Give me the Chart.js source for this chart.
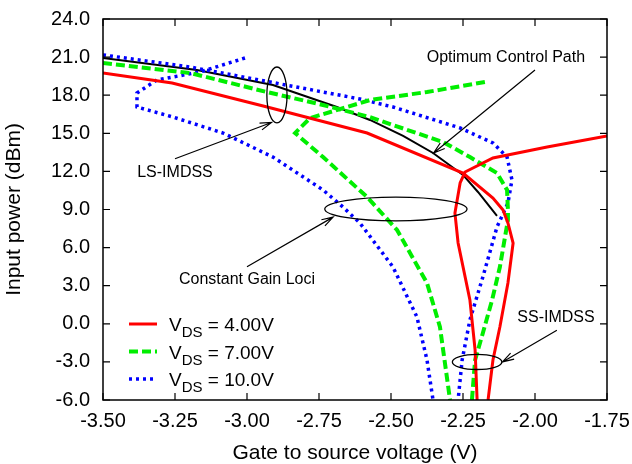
<!DOCTYPE html>
<html>
<head>
<meta charset="utf-8">
<script src="https://cdn.jsdelivr.net/npm/chart.js@4/dist/chart.umd.min.js"></script>
<style>
  html, body { margin: 0; padding: 0; background: #fff; }
  #wrap { width: 632px; height: 464px; }
</style>
</head>
<body>
<div id="wrap"><canvas id="chart" width="632" height="464"></canvas></div>
<script>
// tick labels
var xTickLabels = ['-3.50', '-3.25', '-3.00', '-2.75', '-2.50', '-2.25', '-2.00', '-1.75'];
var yTickLabels = ['-6.0', '-3.0', '0.0', '3.0', '6.0', '9.0', '12.0', '15.0', '18.0', '21.0', '24.0'];

// VDS = 4.00V (two contour branches)
var red4aX = [-3.5, -3.26, -2.93, -2.583, -2.25, -2.146, -2.111, -2.094, -2.076, -2.094, -2.122, -2.146, -2.163];
var red4aY = [19.75, 18.96, 17.07, 15.02, 11.87, 9.9, 8.96, 7.94, 6.36, 3.21, -0.25, -2.85, -6];
var red4bX = [-2.201, -2.208, -2.226, -2.267, -2.278, -2.26, -2.243, -2.146, -1.958, -1.75];
var red4bY = [-6, -2.06, 1.87, 6.36, 8.72, 11.09, 11.95, 13.06, 13.92, 14.79];

// VDS = 7.00V
var green7aX = [-3.5, -3.198, -2.931, -2.736, -2.573, -2.493, -2.319, -2.226, -2.132, -2.097, -2.094, -2.094, -2.122, -2.149, -2.181, -2.208, -2.219];
var green7aY = [20.54, 19.75, 18.25, 17.23, 16.28, 15.65, 14.31, 13.13, 11.87, 10.54, 8.96, 8.17, 4.47, 1.87, -0.72, -2.85, -6];
var green7bX = [-2.174, -2.375, -2.573, -2.781, -2.833, -2.736, -2.583, -2.479, -2.375, -2.33, -2.295];
var green7bY = [19.04, 18.25, 17.62, 16.2, 15.02, 13.13, 9.98, 7.39, 3.21, -0.25, -6];

// VDS = 10.0V
var blue10aX = [-3.5, -3.198, -2.92, -2.608, -2.493, -2.26, -2.146, -2.097, -2.08, -2.094, -2.132, -2.181, -2.226, -2.253, -2.267];
var blue10aY = [21.17, 20.22, 19.04, 17.7, 17.07, 15.42, 14.24, 13.13, 11.32, 9.51, 7.62, 3.69, 0.3, -2.85, -6];
var blue10bX = [-3.007, -3.163, -3.313, -3.382, -3.382, -3.257, -3.083, -2.91, -2.736, -2.667, -2.608, -2.493, -2.41, -2.375, -2.354];
var blue10bY = [20.93, 19.83, 19.2, 18.17, 17.07, 16.28, 15.02, 13.13, 10.54, 9.2, 7.94, 4.47, 0.54, -2.85, -6];

// optimum control path
var optX = [-3.5, -3.174, -2.91, -2.688, -2.573, -2.458, -2.354, -2.25, -2.198, -2.132];
var optY = [20.93, 19.98, 18.8, 17.07, 16.05, 14.79, 13.45, 11.72, 10.38, 8.49];

var seriesNames = ['V_DS = 4.00V', 'V_DS = 7.00V', 'V_DS = 10.0V'];

// annotations, in data units: [cx, cy, rx, ry]
var ellipses = [
  [-2.896, 18.02, 0.035, 2.2],
  [-2.483, 9.04, 0.247, 0.94],
  [-2.201, -3.0, 0.086, 0.6]
];
// arrows: [fromX, fromY, toX, toY]
var arrows = [
  [-3.25, 13.0, -2.915, 15.85],
  [-3.0, 4.5, -2.701, 8.4],
  [-2.0, 19.98, -2.352, 13.45],
  [-1.924, -0.5, -2.113, -3.0]
];
// labels: [x, y, text]
var notes = [
  [-3.25, 11.9, 'LS-IMDSS'],
  [-3.0, 3.45, 'Constant Gain Loci'],
  [-2.101, 20.93, 'Optimum Control Path'],
  [-1.927, 0.45, 'SS-IMDSS']
];

var FONT = '"Liberation Sans", Arial, sans-serif';

function pts(xs, ys) {
  return xs.map(function (x, i) { return { x: x, y: ys[i] }; });
}

var RED = '#ff0000', GREEN = '#00ee00', BLUE = '#0000ff';

function line(label, xs, ys, color, width, dash) {
  return {
    label: label,
    data: pts(xs, ys),
    showLine: true,
    borderColor: color,
    backgroundColor: color,
    borderWidth: width,
    borderDash: dash,
    pointRadius: 0,
    tension: 0,
    clip: 0
  };
}

var decor = {
  id: 'decor',
  afterDatasetsDraw: function (chart) {
    var ctx = chart.ctx;
    var a = chart.chartArea;
    var xs = chart.scales.x, ys = chart.scales.y;
    ctx.save();
    // frame
    ctx.strokeStyle = '#000';
    ctx.lineWidth = 1.5;
    ctx.strokeRect(a.left, a.top, a.right - a.left, a.bottom - a.top);
    // inward ticks on all four sides
    ctx.lineWidth = 1.2;
    ctx.beginPath();
    xs.ticks.forEach(function (t) {
      var p = xs.getPixelForValue(t.value);
      ctx.moveTo(p, a.bottom); ctx.lineTo(p, a.bottom - 7);
      ctx.moveTo(p, a.top); ctx.lineTo(p, a.top + 7);
    });
    ys.ticks.forEach(function (t) {
      var p = ys.getPixelForValue(t.value);
      ctx.moveTo(a.left, p); ctx.lineTo(a.left + 7, p);
      ctx.moveTo(a.right, p); ctx.lineTo(a.right - 7, p);
    });
    ctx.stroke();

    // ellipses
    ctx.lineWidth = 1.3;
    ellipses.forEach(function (e) {
      var cx = xs.getPixelForValue(e[0]), cy = ys.getPixelForValue(e[1]);
      var rx = Math.abs(xs.getPixelForValue(e[0] + e[2]) - cx);
      var ry = Math.abs(ys.getPixelForValue(e[1] + e[3]) - cy);
      ctx.beginPath();
      ctx.ellipse(cx, cy, rx, ry, 0, 0, Math.PI * 2);
      ctx.stroke();
    });
    // arrows
    ctx.lineWidth = 1.2;
    arrows.forEach(function (r) {
      var x0 = xs.getPixelForValue(r[0]), y0 = ys.getPixelForValue(r[1]);
      var x1 = xs.getPixelForValue(r[2]), y1 = ys.getPixelForValue(r[3]);
      var ang = Math.atan2(y1 - y0, x1 - x0);
      ctx.beginPath();
      ctx.moveTo(x0, y0); ctx.lineTo(x1, y1);
      ctx.moveTo(x1 - 12 * Math.cos(ang - 0.3), y1 - 12 * Math.sin(ang - 0.3));
      ctx.lineTo(x1, y1);
      ctx.lineTo(x1 - 12 * Math.cos(ang + 0.3), y1 - 12 * Math.sin(ang + 0.3));
      ctx.stroke();
    });
    // note labels
    ctx.fillStyle = '#000';
    ctx.font = '16px ' + FONT;
    ctx.textAlign = 'center';
    ctx.textBaseline = 'middle';
    notes.forEach(function (n) {
      ctx.fillText(n[2], xs.getPixelForValue(n[0]), ys.getPixelForValue(n[1]));
    });

    // legend with subscripts
    var ds = chart.data.datasets;
    var lx = a.left + 26, ly = a.top + 305;
    for (var i = 0; i < 3; i++) {
      var d = ds[i * 2];
      var yy = ly + i * 27.5;
      ctx.strokeStyle = d.borderColor;
      ctx.lineWidth = d.borderWidth;
      ctx.setLineDash(d.borderDash);
      ctx.beginPath();
      ctx.moveTo(lx, yy); ctx.lineTo(lx + 28, yy);
      ctx.stroke();
      ctx.setLineDash([]);
      var parts = seriesNames[i].split('_');
      var rest = parts[1].split(' ');
      var sub = rest.shift();
      var tail = ' ' + rest.join(' ');
      ctx.fillStyle = '#000';
      ctx.textAlign = 'left';
      ctx.textBaseline = 'alphabetic';
      var tx = lx + 40, base = yy + 7;
      ctx.font = '19px ' + FONT;
      ctx.fillText(parts[0], tx, base);
      tx += ctx.measureText(parts[0]).width;
      ctx.font = '15px ' + FONT;
      ctx.fillText(sub, tx, base + 6);
      tx += ctx.measureText(sub).width;
      ctx.font = '19px ' + FONT;
      ctx.fillText(tail, tx, base);
    }
    ctx.restore();
  }
};

new Chart(document.getElementById('chart'), {
  type: 'scatter',
  data: {
    datasets: [
      line(seriesNames[0], red4aX, red4aY, RED, 3, []),
      line('', red4bX, red4bY, RED, 3, []),
      line(seriesNames[1], green7aX, green7aY, GREEN, 4, [9, 4]),
      line('', green7bX, green7bY, GREEN, 4, [9, 4]),
      line(seriesNames[2], blue10aX, blue10aY, BLUE, 3.5, [3, 4]),
      line('', blue10bX, blue10bY, BLUE, 3.5, [3, 4]),
      line('opt', optX, optY, '#000', 2, [])
    ]
  },
  options: {
    responsive: false,
    animation: false,
    layout: { padding: { top: 19, right: 25, left: 0, bottom: 0 } },
    plugins: { legend: { display: false }, tooltip: { enabled: false } },
    scales: {
      x: {
        type: 'linear',
        min: -3.5, max: -1.75,
        afterBuildTicks: function (s) {
          s.ticks = xTickLabels.map(function (v) { return { value: parseFloat(v) }; });
        },
        afterFit: function (s) { s.height = 64; s.paddingLeft = 0; s.paddingRight = 0; },
        grid: { display: false, drawTicks: false },
        border: { display: false },
        ticks: {
          padding: 9,
          color: '#000',
          maxRotation: 0,
          font: { family: FONT, size: 20 },
          callback: function (v, i) { return xTickLabels[i]; }
        },
        title: {
          display: true,
          text: 'Gate to source voltage (V)',
          color: '#000',
          padding: { top: 0, bottom: 0 },
          font: { family: FONT, size: 21, lineHeight: 1 }
        }
      },
      y: {
        type: 'linear',
        min: -6, max: 24,
        afterBuildTicks: function (s) {
          s.ticks = yTickLabels.map(function (v) { return { value: parseFloat(v) }; });
        },
        afterFit: function (s) { s.width = 103; s.paddingTop = 0; s.paddingBottom = 0; },
        grid: { display: false, drawTicks: false },
        border: { display: false },
        ticks: {
          padding: 13,
          color: '#000',
          font: { family: FONT, size: 20 },
          callback: function (v, i) { return yTickLabels[i]; }
        },
        title: {
          display: true,
          text: 'Input power (dBm)',
          color: '#000',
          padding: { top: 4, bottom: 0 },
          font: { family: FONT, size: 21, lineHeight: 1 }
        }
      }
    }
  },
  plugins: [decor]
});
</script>
</body>
</html>
